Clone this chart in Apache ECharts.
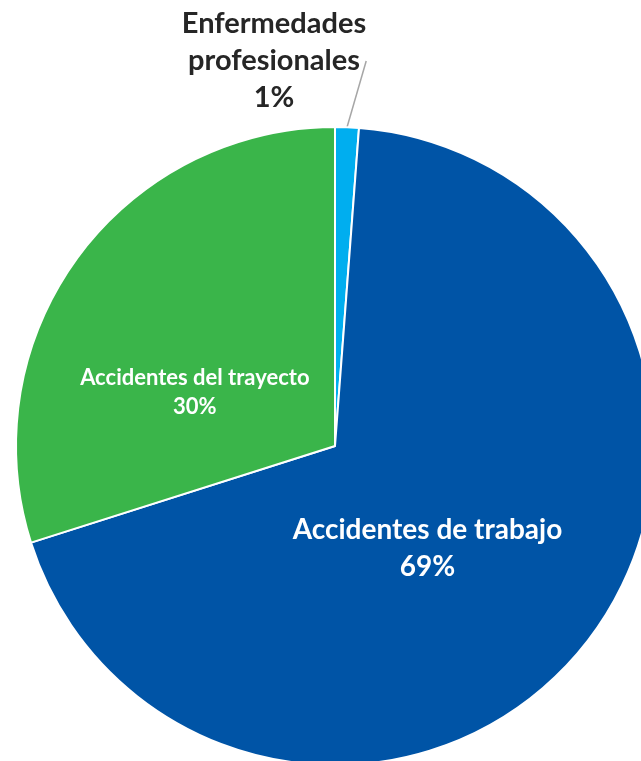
<!DOCTYPE html>
<html>
<head>
<meta charset="utf-8">
<script src="https://cdn.jsdelivr.net/npm/echarts@6/dist/echarts.min.js"></script>
<style>
  html, body { margin: 0; padding: 0; background: #fff; }
  #main { width: 641px; height: 761px; }
</style>
</head>
<body>
<div id="main"></div>
<script>
// datos (porcentaje del total)
var categories = ['Enfermedades\nprofesionales', 'Accidentes de trabajo', 'Accidentes del trayecto'];
var values = [1.2, 68.9, 29.9];
var colors = ['#00AEEF', '#0054A6', '#3AB54A'];

var chart = echarts.init(document.getElementById('main'));

var labelStyles = [
  { color: '#262626', fontSize: 29, lineHeight: 37, position: 'outside' },
  { color: '#ffffff', fontSize: 28, lineHeight: 37, position: 'inside', offset: [-35, 2] },
  { color: '#ffffff', fontSize: 22, lineHeight: 29, position: 'inside', offset: [-9, 42] }
];

var seriesData = categories.map(function (name, i) {
  return {
    name: name,
    value: values[i],
    itemStyle: { color: colors[i] },
    label: labelStyles[i],
    labelLine: { show: i === 0 }
  };
});

var option = {
  animation: false,
  series: [{
    type: 'pie',
    center: [335, 446],
    radius: 319,
    startAngle: 90,
    clockwise: true,
    itemStyle: { borderColor: '#fff', borderWidth: 2 },
    label: {
      show: true,
      fontFamily: 'Lato',
      fontWeight: 'bold',
      align: 'center',
      formatter: function (p) {
        return p.name + '\n' + Math.round(p.value) + '%';
      }
    },
    labelLine: {
      show: false,
      length: 40,
      length2: 0,
      lineStyle: { color: '#a6a6a6', width: 1.5 }
    },
    labelLayout: function (params) {
      if (params.dataIndex === 0) {
        return { x: 274, y: 61, align: 'center', verticalAlign: 'middle' };
      }
    },
    data: seriesData
  }]
};

chart.setOption(option);
</script>
</body>
</html>
